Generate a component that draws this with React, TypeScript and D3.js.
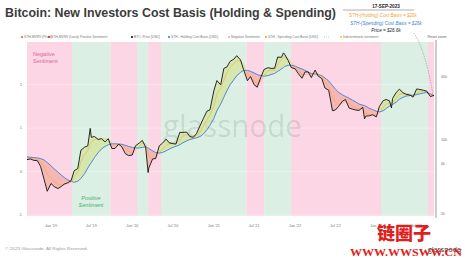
import React from "react";
import * as d3 from "d3";

const dates = ["2018-09-15","2018-10-01","2018-10-15","2018-11-01","2018-11-15","2018-12-01","2018-12-15","2019-01-01","2019-01-15","2019-02-01","2019-02-15","2019-03-01","2019-03-15","2019-04-01","2019-04-15","2019-05-01","2019-05-15","2019-06-01","2019-06-15","2019-06-26","2019-07-01","2019-07-15","2019-08-01","2019-08-15","2019-09-01","2019-09-15","2019-10-01","2019-10-15","2019-11-01","2019-11-15","2019-12-01","2019-12-15","2020-01-01","2020-01-15","2020-02-01","2020-02-15","2020-03-01","2020-03-12","2020-03-15","2020-04-01","2020-04-15","2020-05-01","2020-05-15","2020-06-01","2020-06-15","2020-07-01","2020-07-15","2020-08-01","2020-08-15","2020-09-01","2020-09-15","2020-10-01","2020-10-15","2020-11-01","2020-11-15","2020-12-01","2020-12-15","2021-01-01","2021-01-15","2021-02-01","2021-02-15","2021-03-01","2021-03-15","2021-04-01","2021-04-14","2021-05-01","2021-05-15","2021-06-01","2021-06-15","2021-07-01","2021-07-15","2021-08-01","2021-08-15","2021-09-01","2021-09-15","2021-10-01","2021-10-15","2021-11-01","2021-11-10","2021-11-15","2021-12-01","2021-12-15","2022-01-01","2022-01-15","2022-02-01","2022-02-15","2022-03-01","2022-03-15","2022-04-01","2022-04-15","2022-05-01","2022-05-15","2022-06-01","2022-06-18","2022-07-01","2022-07-15","2022-08-01","2022-08-15","2022-09-01","2022-09-15","2022-10-01","2022-10-15","2022-11-01","2022-11-09","2022-11-15","2022-12-01","2022-12-15","2023-01-01","2023-01-15","2023-02-01","2023-02-15","2023-03-01","2023-03-10","2023-03-15","2023-04-01","2023-04-15","2023-05-01","2023-05-15","2023-06-01","2023-06-15","2023-07-01","2023-07-15","2023-08-01","2023-08-15","2023-09-01","2023-09-17"];

const price = [6500,6600,6400,6350,5600,4200,3250,3850,3600,3450,3600,3800,3900,4100,5100,5350,8000,8550,8800,12900,10600,10800,10100,10300,9600,10300,8300,8300,9150,8600,7400,7100,7200,8800,9350,9900,8550,4900,5400,6600,6650,8800,9300,10200,9400,9230,9150,11800,11800,11900,10800,10600,11500,13800,16000,18800,19400,29300,36800,33500,48000,49600,56000,58800,63500,57800,46700,36700,40200,33600,31800,39900,47000,48800,48100,48200,61600,61300,67500,65500,57200,48900,47700,43100,38700,44500,44400,39300,46300,40500,38500,31300,29800,19000,19300,20800,23300,24300,20100,19700,19300,19100,20500,15900,16900,17000,17400,16600,20900,23700,24300,23600,20200,24900,28500,30500,28100,27200,26800,25600,30600,30300,29700,29200,25900,26600];

const holding = [6900,6850,6800,6750,6650,6450,6100,5700,5300,4950,4650,4400,4200,4050,3950,4050,4300,4800,5400,5900,6100,6800,7600,8200,8700,9000,9200,9200,9150,9100,8900,8700,8500,8400,8400,8500,8600,8400,8300,7900,7600,7500,7600,7900,8200,8500,8700,9000,9400,9800,10100,10300,10500,10800,11400,12500,13800,16000,19000,22000,25500,29500,33500,37500,41000,44000,46000,46000,45000,43500,42000,41000,40500,41000,42000,43000,45000,47500,49000,50000,51500,51500,50500,49000,47500,46000,44500,43000,42500,42000,41000,39000,36500,33000,30500,28500,27000,26000,25000,24000,23000,22000,21500,21200,21000,20000,19500,18800,18500,19000,20000,21000,21300,21800,23000,24500,25500,26200,26500,26700,27000,27500,28000,28300,27500,26500];

const spending = [6700,6650,6550,6500,6200,5500,4700,4300,4000,3800,3700,3750,3850,3950,4500,4900,6200,7300,7900,9200,9500,10200,10300,10400,10200,10100,9400,9000,8900,8900,8300,7800,7500,8000,8700,9300,9200,7600,7000,6700,6800,7500,8300,8900,9200,9300,9250,10000,10900,11300,11100,10900,11000,11900,13500,15700,17300,21000,27500,31000,37000,44000,49000,53500,56500,56500,52000,43000,39000,36500,34000,36500,41500,45500,46500,46000,52500,58000,60500,61500,59500,54000,50500,46500,42000,42000,42500,41500,43000,42500,40500,35500,32000,26000,23000,21500,22500,23300,22300,21000,20200,19700,20000,18500,18000,17500,17400,17000,18300,20500,22000,22800,22000,22800,25000,27200,28000,27800,27300,26600,27800,29200,29400,29300,27300,26300];

const bandStarts = ["2018-09-15","2019-04-05","2019-09-26","2020-01-22","2020-03-12","2020-05-09","2021-05-27","2021-08-15","2021-12-14","2023-01-22","2023-08-21"];
const bandEnds   = ["2019-04-05","2019-09-26","2020-01-22","2020-03-12","2020-05-09","2021-05-27","2021-08-15","2021-12-14","2023-01-22","2023-08-21","2023-09-17"];
const bandSentiment = ["neg","pos","neg","pos","neg","pos","neg","pos","neg","pos","neg"];

const xTickDates = ["2019-01-01","2019-07-01","2020-01-01","2020-07-01","2021-01-01","2021-07-01","2022-01-01","2022-07-01","2023-01-01","2023-07-01"];
const xTickLabels = ["Jan '19","Jul '19","Jan '20","Jul '20","Jan '21","Jul '21","Jan '22","Jul '22","Jan '23","Jul '23"];
const leftTicks = [-1, 0, 1, 2];
const rightTicks = [2000, 6000, 10000, 40000];
const rightTickLabels = ["2k", "6k", "10k", "40k"];

const legendLabels = ["STH-MVRV (Profit)","STH-MVRV (Loss)","Positive Sentiment","BTC: Price [USD]","STH - Holding Cost Basis [USD]","Negative Sentiment","STH - Spending Cost Basis [USD]","","Indeterminate sentiment"];
const legendColors = ["#d9633a","#c0392b","#9fd8b3","#111111","#3d7fd0","#f5a3c0","#f0a530","#999999","#e8d33a"];
const legendX = [22, 49, 78, 132, 169, 229, 266, 326, 341];

const W = 465, H = 260;
const L = 27, R = 434, T = 42, B = 216;

export default function App() {
  const parse = d3.timeParse("%Y-%m-%d");
  const ds = dates.map((s) => parse(s) as Date);
  const x = d3.scaleTime().domain([parse("2018-09-15") as Date, parse("2023-09-17") as Date]).range([L, R]);
  const y = d3.scaleLog().domain([1890, 85700]).range([B, T]);
  const yl = d3.scaleLinear().domain([-1.02, 2.98]).range([B, T]);

  const rows = ds.map((d, i) => ({ d, p: price[i], h: holding[i], s: spending[i] }));
  const linePrice = d3.line<any>().x((r) => x(r.d)).y((r) => y(r.p))(rows) as string;
  const lineHold = d3.line<any>().x((r) => x(r.d)).y((r) => y(r.h))(rows) as string;
  const lineSpend = d3.line<any>().x((r) => x(r.d)).y((r) => y(r.s))(rows) as string;
  const areaBetween = d3.area<any>().x((r) => x(r.d)).y0((r) => y(r.h)).y1((r) => y(r.p))(rows) as string;
  const clipAbove = d3.area<any>().x((r) => x(r.d)).y0(T - 5).y1((r) => y(r.h))(rows) as string;
  const clipBelow = d3.area<any>().x((r) => x(r.d)).y0(B + 5).y1((r) => y(r.h))(rows) as string;

  const font = "'Liberation Sans', Arial, sans-serif";

  return (
    <svg width={W} height={H} style={{ position: "absolute", left: 0, top: 0, background: "#fff" }} fontFamily={font}>
      <defs>
        <clipPath id="ca"><path d={clipAbove} /></clipPath>
        <clipPath id="cb"><path d={clipBelow} /></clipPath>
        <clipPath id="plot"><rect x={L} y={T} width={R - L} height={B - T} /></clipPath>
      </defs>
      <rect x={0} y={0} width={W} height={H} fill="#fff" />
      <text x={5} y={17} fontSize={12.5} fontWeight={600} fill="#3c3c3c" textLength={331} lengthAdjust="spacingAndGlyphs">
        Bitcoin: New Investors Cost Basis (Holding &amp; Spending)
      </text>
      <text x={386} y={8} fontSize={4.6} fontWeight={700} fill="#222" textAnchor="middle">17-SEP-2023</text>
      <line x1={343} x2={414} y1={10} y2={10} stroke="#333" strokeWidth={0.4} />
      <text x={383} y={17} fontSize={4.6} fontStyle="italic" fill="#f0a530" textAnchor="middle">STH-(Holding) Cost Basis = $26k</text>
      <text x={386} y={24.5} fontSize={4.6} fontStyle="italic" fill="#3d7fd0" textAnchor="middle">STH-(Spending) Cost Basis = $26k</text>
      <text x={386} y={31.5} fontSize={4.6} fontStyle="italic" fill="#222" textAnchor="middle">Price = $26.6k</text>
      {legendLabels.map((lab, i) => (
        <g key={"lg" + i}>
          {lab === "" ? (
            <line x1={legendX[i] - 2} x2={legendX[i] + 3} y1={37} y2={37} stroke={legendColors[i]} strokeWidth={0.5} strokeDasharray="1,1" />
          ) : (
            <circle cx={legendX[i]} cy={37} r={1.1} fill={legendColors[i]} />
          )}
          <text x={legendX[i] + 2} y={38.2} fontSize={3.3} fill="#777">{lab}</text>
        </g>
      ))}
      <text x={437} y={38.2} fontSize={3.6} fill="#666" textAnchor="middle">Reset zoom</text>
      {bandStarts.map((s, i) => {
        const x0 = x(parse(s) as Date), x1 = x(parse(bandEnds[i]) as Date);
        return <rect key={"b" + i} x={x0} y={T} width={x1 - x0} height={B - T} fill={bandSentiment[i] === "neg" ? "#fcd6e4" : "#dcefe5"} />;
      })}
      {leftTicks.map((t) => (
        <line key={"g" + t} x1={L} x2={R} y1={yl(t)} y2={yl(t)} stroke="#fff" strokeOpacity={0.7} strokeWidth={0.5} />
      ))}
      <text x={163} y={137} fontSize={31} fill="#000" fillOpacity={0.11} textLength={139} lengthAdjust="spacingAndGlyphs" fontFamily="'Open Sans', sans-serif">glassnode</text>
      <text x={33} y={56} fontSize={5.5} fill="#e0649a">Negative</text>
      <text x={33} y={63} fontSize={5.5} fill="#e0649a">Sentiment</text>
      <text x={91} y={200} fontSize={5.5} fill="#3fb36a" fontStyle="italic" textAnchor="middle">Positive</text>
      <text x={91} y={207} fontSize={5.5} fill="#3fb36a" fontStyle="italic" textAnchor="middle">Sentiment</text>
      <g clipPath="url(#plot)">
        <path d={areaBetween} fill="#d3e49a" fillOpacity={0.75} clipPath="url(#ca)" />
        <path d={areaBetween} fill="#f0a094" fillOpacity={0.6} clipPath="url(#cb)" />
        <path d={lineHold} fill="none" stroke="#3d7fd0" strokeWidth={0.9} />
        <path d={lineSpend} fill="none" stroke="#f0a530" strokeWidth={0.5} />
        <path d={linePrice} fill="none" stroke="#111" strokeWidth={0.9} />
      </g>
      {leftTicks.map((t) => (
        <text key={"lt" + t} x={22} y={yl(t) + 1.3} fontSize={3.8} fill="#777" textAnchor="end">{t}</text>
      ))}
      <line x1={436} x2={436} y1={T - 2} y2={B + 2} stroke="#555" strokeWidth={0.6} />
      {rightTicks.map((t, i) => (
        <text key={"rt" + t} x={441} y={y(t) + 1.3} fontSize={3.8} fill="#777">{rightTickLabels[i]}</text>
      ))}
      {xTickDates.map((s, i) => (
        <text key={"xt" + s} x={x(parse(s) as Date)} y={227} fontSize={3.8} fill="#777" textAnchor="middle">{xTickLabels[i]}</text>
      ))}
      <path d="M414,33 Q426,52 433,95" fill="none" stroke="#777" strokeWidth={0.5} strokeDasharray="1.5,1" />
      <text x={5} y={250} fontSize={4.3} fill="#999" textLength={83} lengthAdjust="spacingAndGlyphs">© 2023 Glassnode. All Rights Reserved.</text>
      <text x={428} y={252} fontSize={7} fill="#333" fontFamily="'Open Sans', sans-serif">glassnode</text>
      <text x={404} y={240} fontSize={18} fontWeight={900} fill="#e0201b" textAnchor="middle" fontFamily="'Noto Sans CJK SC', sans-serif">链圈子</text>
      <text x={350} y={256} fontSize={11} fontWeight={700} fill="#e0201b" textLength={112} lengthAdjust="spacingAndGlyphs" fontFamily="'Liberation Serif', serif">WWW.WWSWW.CN</text>
    </svg>
  );
}
